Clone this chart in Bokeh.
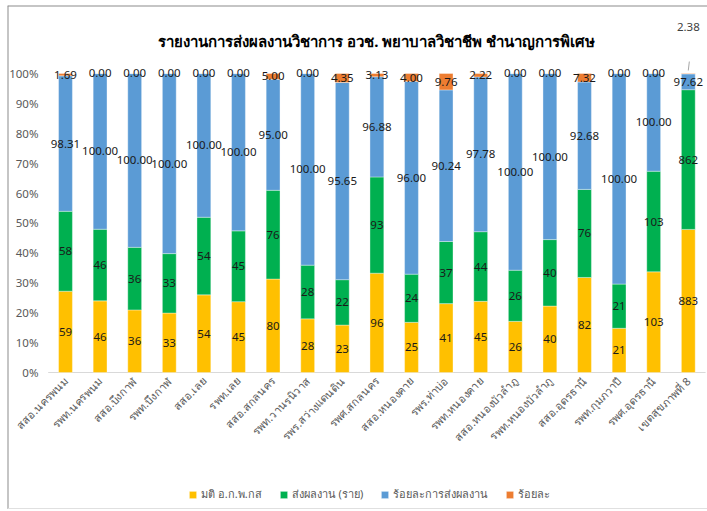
from bokeh.plotting import figure
from bokeh.models import ColumnDataSource, Legend, LegendItem, Label, Arrow, Span
from bokeh.embed import file_html
from bokeh.resources import INLINE
from bokeh.core.properties import value
import math

categories = ["สสอ.นครพนม", "รพท.นครพนม", "สสอ.บึงกาฬ", "รพท.บึงกาฬ", "สสอ.เลย", "รพท.เลย",
              "สสอ.สกลนคร", "รพท.วานรนิวาส", "รพร.สว่างแดนดิน", "รพศ.สกลนคร", "สสอ.หนองคาย",
              "รพร.ท่าบ่อ", "รพท.หนองคาย", "สสอ.หนองบัวลำภู", "รพท.หนองบัวลำภู", "สสอ.อุดรธานี",
              "รพท.กุมภวาปี", "รพศ.อุดรธานี", "เขตสุขภาพที่ 8"]
approved = [59, 46, 36, 33, 54, 45, 80, 28, 23, 96, 25, 41, 45, 26, 40, 82, 21, 103, 883]
submitted = [58, 46, 36, 33, 54, 45, 76, 28, 22, 93, 24, 37, 44, 26, 40, 76, 21, 103, 862]
pct_submitted = [98.31, 100.00, 100.00, 100.00, 100.00, 100.00, 95.00, 100.00, 95.65, 96.88,
                 96.00, 90.24, 97.78, 100.00, 100.00, 92.68, 100.00, 100.00, 97.62]
pct_other = [1.69, 0.00, 0.00, 0.00, 0.00, 0.00, 5.00, 0.00, 4.35, 3.13,
             4.00, 9.76, 2.22, 0.00, 0.00, 7.32, 0.00, 0.00, 2.38]
series_names = ["มติ อ.ก.พ.กส", "ส่งผลงาน (ราย)", "ร้อยละการส่งผลงาน", "ร้อยละ"]
y_ticks = [0.0, 0.1, 0.2, 0.3, 0.4, 0.5, 0.6, 0.7, 0.8, 0.9, 1.0]
y_tick_labels = ["0%", "10%", "20%", "30%", "40%", "50%", "60%", "70%", "80%", "90%", "100%"]
title_text = "รายงานการส่งผลงานวิชาการ อวช. พยาบาลวิชาชีพ ชำนาญการพิเศษ"
callout_index = 18  # orange label moved above the bar

colors = ["#FFC000", "#00B050", "#5B9BD5", "#ED7D31"]
FONT = "Noto Sans"

series = [approved, submitted, pct_submitted, pct_other]
formats = ["{:.0f}", "{:.0f}", "{:.2f}", "{:.2f}"]
n = len(categories)
xs = list(range(n))
totals = [sum(s[i] for s in series) for i in range(n)]

# one frame covers the whole chart area (34.6 px per category, 299 px per 100 %)
X_LEFT, X_RIGHT = -1.676, 18.555
Y_BOTTOM, Y_TOP = -0.4582, 1.2274
p = figure(frame_width=700, frame_height=504, x_range=(X_LEFT, X_RIGHT), y_range=(Y_BOTTOM, Y_TOP),
           output_backend="svg", toolbar_location=None,
           min_border_left=7, min_border_right=0, min_border_top=5, min_border_bottom=0)
p.outline_line_color = None
p.xgrid.visible = False
p.ygrid.visible = False
p.xaxis.visible = False
p.yaxis.visible = False
p.background_fill_color = "white"
p.border_fill_color = "white"

# chart-area border (left and top edges dark, bottom edge light)
p.add_layout(Span(location=X_LEFT, dimension="height", line_color="#8c8c8c", line_width=2))
p.add_layout(Span(location=Y_TOP, dimension="width", line_color="#8c8c8c", line_width=2))
p.add_layout(Span(location=-0.4548, dimension="width", line_color="#e0e0e0", line_width=1))

# title
p.add_layout(Label(x=(n - 1) / 2, y=1.11, text=title_text, text_align="center",
                   text_baseline="middle", text_font=FONT, text_font_size="15px",
                   text_font_style="bold", text_color="#000000"))

# value axis labels
p.text(x=[-0.78] * len(y_ticks), y=y_ticks, text=y_tick_labels, text_align="right",
       text_baseline="middle", text_font=value(FONT), text_font_size="11.5px",
       text_color="#595959")

# category axis: base line and rotated category labels
p.segment(x0=[-0.5], y0=[0], x1=[n - 0.5], y1=[0], line_color="#d9d9d9", line_width=1)
p.text(x=xs, y=[-0.022] * n, text=categories, angle=math.pi / 4, text_align="right",
       text_baseline="middle", text_font=value(FONT), text_font_size="11px",
       text_color="#595959")

legend_items = []
cum = [0.0] * n
for k, s in enumerate(series):
    bottoms = [cum[i] for i in range(n)]
    tops = [cum[i] + s[i] / totals[i] for i in range(n)]
    cum = tops
    src = ColumnDataSource(dict(x=xs, bottom=bottoms, top=tops,
                                mid=[(b + t) / 2 for b, t in zip(bottoms, tops)],
                                label=[formats[k].format(v) for v in s]))
    r = p.vbar(x="x", bottom="bottom", top="top", width=0.4, source=src,
               fill_color=colors[k], line_color="white", line_width=0.6, line_alpha=0.6)
    legend_items.append(LegendItem(label=series_names[k], renderers=[r]))
    if k == 3:
        idx = [i for i in range(n) if i != callout_index]
        lsrc = ColumnDataSource(dict(x=[xs[i] for i in idx], mid=[src.data["mid"][i] for i in idx],
                                     label=[src.data["label"][i] for i in idx]))
    else:
        lsrc = src
    p.text(x="x", y="mid", text="label", source=lsrc, text_align="center",
           text_baseline="middle", text_font=value(FONT), text_font_size="11.5px",
           text_color="#1a1a1a")

# callout label for last category
ci = callout_index
p.add_layout(Label(x=xs[ci], y=1.154, text=formats[3].format(pct_other[ci]),
                   text_align="center", text_baseline="middle", text_font=FONT,
                   text_font_size="11.5px", text_color="#404040"))
p.add_layout(Arrow(x_start=xs[ci], y_start=1.01, x_end=xs[ci] + 0.03, y_end=1.04, end=None,
                   line_color="#a6a6a6", line_width=1))

legend = Legend(items=legend_items, orientation="horizontal", location=(181, 6),
                label_text_font=FONT, label_text_font_size="11px", label_text_color="#595959",
                glyph_width=9, glyph_height=9, label_height=12, spacing=17, label_standoff=4,
                border_line_color=None, background_fill_alpha=0, margin=0, padding=4)
p.add_layout(legend, "center")

open("out.html", "w").write(file_html(p, INLINE))
